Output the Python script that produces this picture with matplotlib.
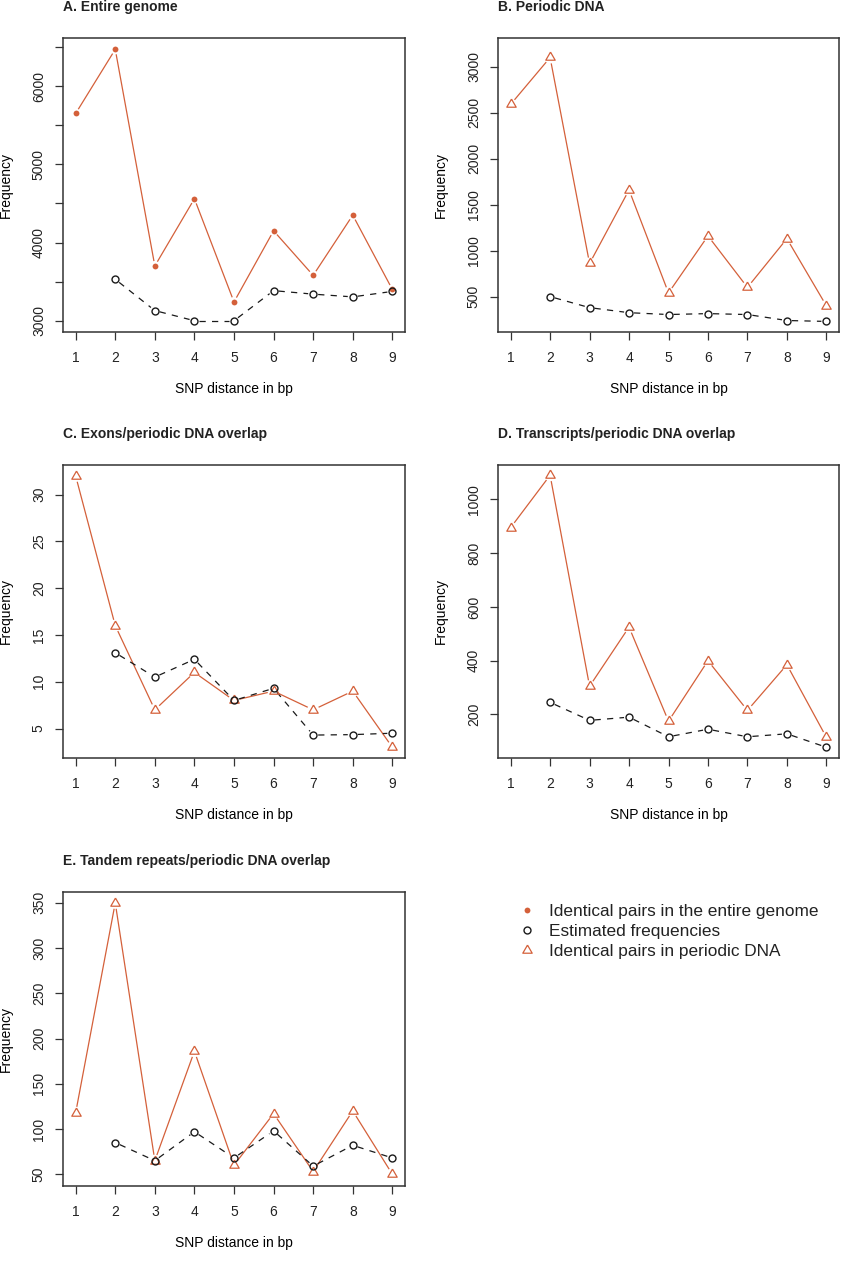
import matplotlib
matplotlib.use("Agg")
import matplotlib.pyplot as plt
from matplotlib.lines import Line2D
import numpy as np

# SNP distance (bp)
dist = [1, 2, 3, 4, 5, 6, 7, 8, 9]
dist_est = [2, 3, 4, 5, 6, 7, 8, 9]

# A. Entire genome
genome_pairs = [5650, 6470, 3700, 4560, 3240, 4150, 3580, 4350, 3400]
genome_est = [3530, 3130, 3000, 3000, 3385, 3340, 3305, 3375]

# B. Periodic DNA
periodic_pairs = [2590, 3100, 860, 1660, 540, 1160, 600, 1130, 400]
periodic_est = [500, 380, 325, 305, 315, 305, 240, 230]

# C. Exons/periodic DNA overlap
exons_pairs = [32, 16, 7, 11, 8, 9, 7, 9, 3]
exons_est = [13.1, 10.5, 12.4, 8.0, 9.3, 4.3, 4.35, 4.5]

# D. Transcripts/periodic DNA overlap
transcripts_pairs = [895, 1090, 305, 525, 175, 400, 215, 385, 115]
transcripts_est = [245, 178, 190, 117, 145, 117, 128, 78]

# E. Tandem repeats/periodic DNA overlap
tandem_pairs = [118, 350, 65, 186, 60, 117, 53, 120, 50]
tandem_est = [85, 65, 97, 68, 98, 59, 82, 68]

titles = ["A. Entire genome", "B. Periodic DNA", "C. Exons/periodic DNA overlap",
          "D. Transcripts/periodic DNA overlap", "E. Tandem repeats/periodic DNA overlap"]
legend_labels = ["Identical pairs in the entire genome", "Estimated frequencies",
                 "Identical pairs in periodic DNA"]

ROUGE = "#D4603A"
NOIR = "#1a1a1a"
W, H = 842, 1280

plt.rcParams["font.family"] = ["Liberation Sans", "DejaVu Sans"]
plt.rcParams["text.color"] = "#222222"
plt.rcParams["xtick.color"] = "#333333"
plt.rcParams["ytick.color"] = "#333333"
plt.rcParams["xtick.labelcolor"] = "#222222"
plt.rcParams["ytick.labelcolor"] = "#222222"

# triangle a la R (pch=2), centre sur le centroide
tri = [(0, 1.555), (1.3468, -0.778), (-1.3468, -0.778), (0, 1.555)]


def tracer_type_b(ax, x, y, color, ls, gap=5.0, lw=0.9):
    # lignes interrompues autour des points, comme type="b" dans R
    pts = ax.transData.transform(np.column_stack([x, y]))
    inv = ax.transData.inverted()
    for p0, p1 in zip(pts[:-1], pts[1:]):
        d = p1 - p0
        L = np.hypot(d[0], d[1])
        if L <= 2 * gap:
            continue
        u = d / L
        seg = inv.transform(np.array([p0 + u * gap, p1 - u * gap]))
        ax.plot(seg[:, 0], seg[:, 1], color=color, ls=ls, lw=lw, solid_capstyle="butt",
                dash_capstyle="butt")


fig = plt.figure(figsize=(W / 100, H / 100), dpi=100)

# boites des panneaux en pixels: gauche, droite, haut, bas
boites = [(63, 405, 38, 332), (498, 839, 38, 332), (63, 405, 465, 758),
          (498, 839, 465, 758), (63, 405, 892, 1186)]
ylims = [(2856, 6615), (115, 3312), (1.85, 33.17), (38, 1128), (37, 362)]
yticks = [np.arange(3000, 6501, 500), np.arange(500, 3001, 500), np.arange(5, 31, 5),
          np.arange(200, 1001, 200), np.arange(50, 351, 50)]
series = [(genome_pairs, genome_est), (periodic_pairs, periodic_est), (exons_pairs, exons_est),
          (transcripts_pairs, transcripts_est), (tandem_pairs, tandem_est)]

for i in range(5):
    g, d, t, b = boites[i]
    ax = fig.add_axes([g / W, 1 - b / H, (d - g) / W, (b - t) / H])
    ax.set_xlim(0.68, 9.32)
    ax.set_ylim(*ylims[i])
    pairs, est = series[i]

    tracer_type_b(ax, dist, pairs, ROUGE, "-", gap=5.0 if i == 0 else 6.0)
    tracer_type_b(ax, dist_est, est, NOIR, (0, (5, 5)), gap=5.0)
    if i == 0:
        ax.plot(dist, pairs, ls="none", marker="o", ms=4.2, color=ROUGE, mew=0)
    else:
        ax.plot(dist, pairs, ls="none", marker=tri, ms=7.8, mfc="none", mec=ROUGE, mew=0.9)
    ax.plot(dist_est, est, ls="none", marker="o", ms=5.0, mfc="none", mec=NOIR, mew=1.0)

    ax.set_xticks(dist)
    ax.set_yticks(yticks[i])
    if i == 0:
        ax.set_yticklabels([str(v) if v % 1000 == 0 else "" for v in yticks[i]])
    ax.tick_params(direction="out", length=5.8, width=0.9, labelsize=10)
    ax.tick_params(axis="x", pad=8)
    ax.tick_params(axis="y", labelrotation=90, pad=6.5)
    for lab in ax.get_yticklabels():
        lab.set_va("center")
    for sp in ax.spines.values():
        sp.set_linewidth(1.1)
        sp.set_color("#333333")

    h = b - t
    ax.set_xlabel("SNP distance in bp", fontsize=10, va="center")
    ax.xaxis.set_label_coords(0.5, -57 / h)
    ax.set_ylabel("Frequency", fontsize=10, va="center")
    ax.yaxis.set_label_coords(-57 / (d - g), 0.5)
    ax.text(0, 1 + 27 / h, titles[i], transform=ax.transAxes, ha="left", va="baseline",
            fontsize=10, fontweight="bold")

# legende
poignees = [
    Line2D([], [], ls="none", marker="o", ms=4.2, color=ROUGE, mew=0),
    Line2D([], [], ls="none", marker="o", ms=5.0, mfc="none", mec=NOIR, mew=1.0),
    Line2D([], [], ls="none", marker=tri, ms=7.8, mfc="none", mec=ROUGE, mew=0.9),
]
fig.legend(poignees, legend_labels, loc="upper left",
           bbox_to_anchor=(518 / W, 1 - 904 / H), frameon=False, fontsize=12.4,
           handlelength=1.0, handletextpad=0.78, labelspacing=0.28, borderpad=0,
           borderaxespad=0)

fig.savefig("out.png", dpi=100)
